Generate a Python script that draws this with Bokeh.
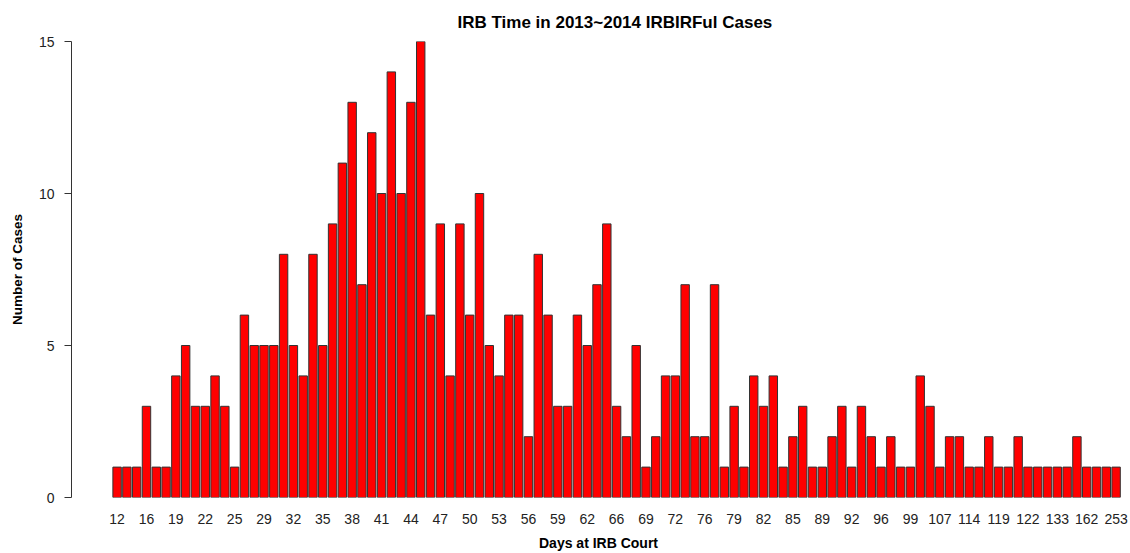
from bokeh.plotting import figure
from bokeh.models import ColumnDataSource, FixedTicker, Range1d
from bokeh.embed import file_html
from bokeh.resources import INLINE

days = ["12", "13", "15", "16", "17", "18", "19", "20", "21", "22", "23", "24", "25",
        "26", "27", "29", "30", "31", "32", "33", "34", "35", "36", "37", "38",
        "39", "40", "41", "42", "43", "44", "45", "46", "47", "48", "49", "50",
        "51", "52", "53", "54", "55", "56", "57", "58", "59", "60", "61", "62",
        "63", "64", "66", "67", "68", "69", "70", "71", "72", "73", "74", "76",
        "77", "78", "79", "80", "81", "82", "83", "84", "85", "86", "87", "89",
        "90", "91", "92", "93", "94", "96", "97", "98", "99", "101", "104", "107",
        "109", "111", "114", "116", "118", "119", "120", "121", "122", "125", "128",
        "133", "140", "150", "162", "180", "210", "253"]

cases = [1, 1, 1, 3, 1, 1, 4, 5, 3, 3, 4, 3, 1, 6, 5, 5, 5, 8, 5, 4, 8, 5, 9, 11, 13,
         7, 12, 10, 14, 10, 13, 15, 6, 9, 4, 9, 6, 10, 5, 4, 6, 6, 2, 8, 6, 3, 3, 6, 5, 7,
         9, 3, 2, 5, 1, 2, 4, 4, 7, 2, 2, 7, 1, 3, 1, 4, 3, 4, 1, 2, 3, 1, 1, 2, 3,
         1, 3, 2, 1, 2, 1, 1, 4, 3, 1, 2, 2, 1, 1, 2, 1, 1, 2, 1, 1, 1, 1, 1, 2, 1, 1, 1, 1]

y_ticks = [0, 5, 10, 15]

n = len(days)
src = ColumnDataSource(dict(x=list(range(n)), top=cases, day=days))

FONT = "Liberation Sans"

p = figure(width=1130, height=553, output_backend="svg", toolbar_location=None,
           x_range=Range1d(-4.656, 102.96), y_range=Range1d(0, 15),
           min_border_left=71, min_border_right=5, min_border_top=41, min_border_bottom=56,
           title="IRB Time in 2013~2014 IRBIRFul Cases")

p.vbar(x="x", top="top", bottom=0, width=0.86, source=src,
       fill_color="#FF0000", line_color="#333333", line_width=1)

p.title.align = "left"
p.title.offset = 386
p.title.vertical_align = "top"
p.title.text_font = FONT
p.title.text_font_size = "17px"
p.title.text_font_style = "bold"
p.title.text_color = "black"
p.title.standoff = 15

p.grid.visible = False
p.outline_line_color = None
p.background_fill_color = "white"
p.border_fill_color = "white"

# x axis: labels only
tick_idx = list(range(0, n, 3))
p.xaxis.ticker = FixedTicker(ticks=tick_idx)
p.xaxis.major_label_overrides = {i: days[i] for i in tick_idx}
p.xaxis.axis_line_color = None
p.xaxis.major_tick_line_color = None
p.xaxis.major_tick_out = 0
p.xaxis.major_tick_in = 0
p.xaxis.minor_tick_line_color = None
p.xaxis.major_label_text_font = FONT
p.xaxis.major_label_text_font_size = "14px"
p.xaxis.major_label_text_color = "#222222"
p.xaxis.major_label_standoff = 16
p.xaxis.axis_label = "Days at IRB Court"
p.xaxis.axis_label_text_font = FONT
p.xaxis.axis_label_text_font_size = "14px"
p.xaxis.axis_label_text_font_style = "bold"
p.xaxis.axis_label_text_color = "black"
p.xaxis.axis_label_standoff = 8

# y axis
p.yaxis.ticker = FixedTicker(ticks=y_ticks)
p.yaxis.axis_line_color = "#333333"
p.yaxis.major_tick_line_color = "#333333"
p.yaxis.major_tick_in = 0
p.yaxis.major_tick_out = 7
p.yaxis.minor_tick_line_color = None
p.yaxis.major_label_text_font = FONT
p.yaxis.major_label_text_font_size = "14px"
p.yaxis.major_label_text_color = "#222222"
p.yaxis.major_label_standoff = 10
p.yaxis.axis_label = "Number of Cases"
p.yaxis.axis_label_text_font = FONT
p.yaxis.axis_label_text_font_size = "13.5px"
p.yaxis.axis_label_text_font_style = "bold"
p.yaxis.axis_label_text_color = "black"
p.yaxis.axis_label_standoff = 11

open("out.html", "w").write(file_html(p, INLINE))
